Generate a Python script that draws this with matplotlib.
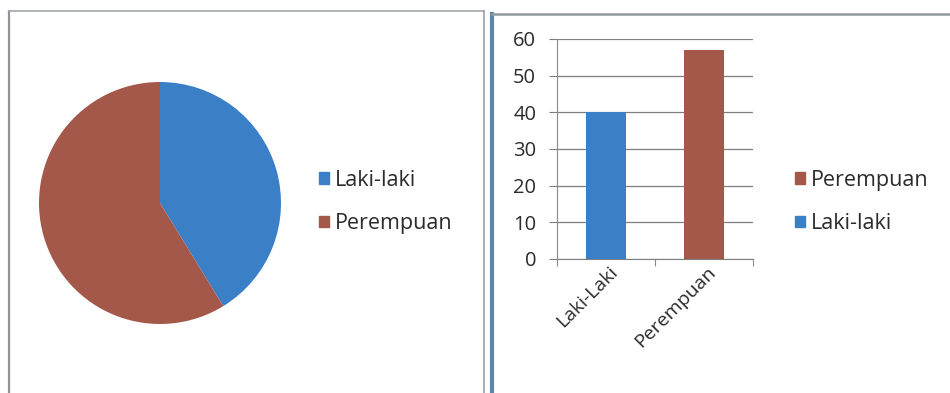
import matplotlib.pyplot as plt
from matplotlib.patches import Rectangle
from matplotlib.lines import Line2D

# jumlah responden menurut jenis kelamin
kategori = ["Laki-Laki", "Perempuan"]
legend_labels = ["Laki-laki", "Perempuan"]
jumlah = [40, 57]
warna = ["#3b7fc6", "#a4584a"]

plt.rcParams["font.family"] = ["Open Sans", "DejaVu Sans"]

W, H = 950, 393
fig = plt.figure(figsize=(W / 100, H / 100), dpi=100)
fig.patch.set_facecolor("white")


def box(x0, y0, x1, y1):
    # pixel coords (top-left origin) -> figure fraction
    return [x0 / W, 1 - y1 / H, (x1 - x0) / W, (y1 - y0) / H]


# frames around both charts
fig.add_artist(Line2D([9 / W, 9 / W], [0, 1 - 11 / H], color="#8e9499", lw=1.6))
fig.add_artist(Line2D([9 / W, 484 / W], [1 - 11 / H, 1 - 11 / H], color="#a3a8ad", lw=1.2))
fig.add_artist(Line2D([484 / W, 484 / W], [0, 1 - 11 / H], color="#9aa0a5", lw=1.2))
fig.add_artist(Line2D([492 / W, 492 / W], [0, 1 - 14 / H], color="#5a88a8", lw=3.0))
fig.add_artist(Line2D([492 / W, 1], [1 - 14 / H, 1 - 14 / H], color="#8e98a0", lw=1.8))

# ---- pie chart ----
ax1 = fig.add_axes(box(39, 82, 281, 324))
ax1.pie(jumlah, colors=warna, startangle=90, counterclock=False, radius=1.0,
        wedgeprops=dict(linewidth=0))
ax1.set_xlim(-1, 1)
ax1.set_ylim(-1, 1)
ax1.set_aspect("equal")

handles = [Rectangle((0, 0), 1, 1, color=c) for c in warna]
leg_kw = dict(loc="center left", frameon=False, fontsize=15.5,
              handlelength=0.45, handleheight=0.45, handletextpad=0.3,
              labelspacing=1.05, labelcolor="#2b2b2b", borderpad=0,
              borderaxespad=0)
fig.legend(handles, legend_labels, bbox_to_anchor=(319 / W, 1 - 202 / H), **leg_kw)

# ---- bar chart ----
ax2 = fig.add_axes(box(557, 39, 753, 259))
x = range(len(kategori))
ax2.bar(x, jumlah, width=0.4, color=warna, zorder=2)
ax2.set_xlim(-0.5, 1.5)
ax2.set_ylim(0, 60)
ax2.set_yticks(range(0, 61, 10))
ax2.yaxis.grid(True, color="#7f7f7f", lw=0.9, zorder=0)
ax2.set_xticks([-0.5, 0.5, 1.5])
ax2.set_xticklabels([])
ax2.tick_params(axis="x", length=5, color="#8a8a8a", direction="out")
ax2.tick_params(axis="y", length=6, color="#7f7f7f", labelsize=14.5,
                labelcolor="#2b2b2b", pad=9)
for s in ["top", "right"]:
    ax2.spines[s].set_visible(False)
ax2.spines["left"].set_color("#8a8a8a")
ax2.spines["bottom"].set_color("#7f7f7f")
for i, k in enumerate(kategori):
    ax2.annotate(k, xy=(i, 0), xycoords=("data", "axes fraction"),
                 xytext=(2, -3), textcoords="offset points",
                 rotation=45, ha="right", va="top", rotation_mode="anchor",
                 fontsize=14, color="#2b2b2b")

# legend order reversed like the series list
fig.legend(handles[::-1], legend_labels[::-1], bbox_to_anchor=(795 / W, 1 - 202 / H), **leg_kw)

fig.savefig("out.png", dpi=100, facecolor="white")
